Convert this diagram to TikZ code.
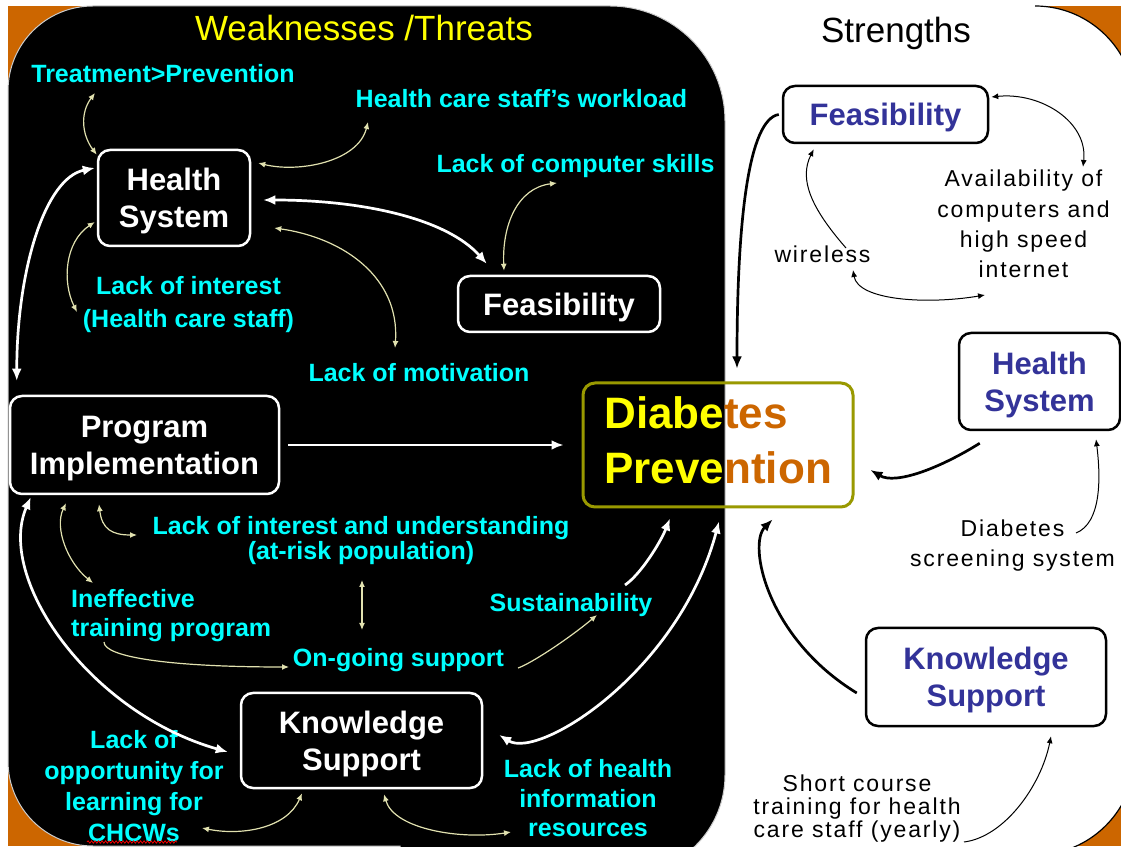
\documentclass[tikz,border=0pt]{standalone}
\usepackage{fontspec}
\setmainfont{Liberation Sans}
\newfontfamily\spacedfont[LetterSpace=8]{Liberation Sans}
\usepackage{xcolor}
\definecolor{swotorange}{RGB}{204,102,0}
\definecolor{swotcyan}{RGB}{0,255,255}
\definecolor{swotyellow}{RGB}{255,255,0}
\definecolor{swotblue}{RGB}{51,51,153}
\definecolor{swotolive}{RGB}{153,153,0}
\definecolor{paleyellow}{RGB}{225,225,175}
\usepackage{tikz}
\usetikzlibrary{arrows.meta}
\usetikzlibrary{decorations.pathmorphing}
\newcommand{\boxfont}{\bfseries\fontsize{31}{37}\selectfont}
\newcommand{\weakfont}[1][30]{\bfseries\fontsize{25}{#1}\selectfont}
\newcommand{\strongfont}[1][30]{\spacedfont\fontsize{23}{#1}\selectfont}
\newcommand{\twotone}[2]{\textcolor{swotyellow}{#1}\textcolor{swotorange}{#2}}
\tikzset{
    common/.style={rounded corners=12pt, line width=2.5pt, align=center, font=\boxfont, inner sep=0pt, text depth=0pt},
    darkbox/.style={common, draw=white, text=white},
    lightbox/.style={common, draw=black, text=swotblue},
    goalbox/.style={common, draw=swotolive, line width=3pt, font=\bfseries\fontsize{44}{55}\selectfont,
        text width=227pt, align=left, minimum width=270pt, minimum height=124pt, text depth=65pt},
    heading/.style={font=\fontsize{35}{40}\selectfont, inner sep=0pt},
    weak/.style={text=swotcyan, font=\weakfont, align=center, inner sep=2pt},
    strong/.style={text=black, font=\strongfont, align=center, inner sep=2pt},
    bigarrow/.style={white, line width=2.7pt, >={Latex[length=12pt, width=10pt]}},
    finearrow/.style={paleyellow, line width=1.2pt, >={Latex[length=7pt, width=6pt]}},
    darkarrow/.style={black, line width=2.7pt, >={Latex[length=12pt, width=10pt]}},
    thinarrow/.style={black, line width=1pt, >={Latex[length=7pt, width=6pt]}}
}

\begin{document}
\begin{tikzpicture}[x=1pt, y=1pt]
    \useasboundingbox (0,0) rectangle (1121,846);
    \clip (0,0) rectangle (1121,846);
    % background panels
    \fill[white] (0,0) rectangle (1121,846);
    \fill[swotorange] (8,0) rectangle (1121,840);
    \fill[white, rounded corners=100pt] (400,-9) rectangle (1135,840);
    \draw[black, line width=1.2pt] (1035,840) .. controls (1090.2,840) and (1135,795.2) .. (1135,740);
    \draw[black, line width=1.2pt] (1135,91) .. controls (1135,35.8) and (1090.2,-9) .. (1035,-9);
    \draw[fill=black, draw=white!80!black, line width=1pt]
        (8,755) .. controls (8,802) and (46,840) .. (93,840) -- (610,840)
        .. controls (673.5,840) and (725,788.5) .. (725,725) -- (725,71)
        .. controls (725,16) and (680,-29) .. (625,-29) -- (400,-29) -- (400,0) -- (93,0)
        .. controls (46,0) and (8,38) .. (8,85) -- cycle;

    \node[heading, text=swotyellow] (titleW) at (364,818) {Weaknesses /Threats};
    \node[heading] (titleS) at (896,813) {Strengths};

    % boxes
    \node[darkbox, minimum width=152pt, minimum height=96pt] (hsL) at (174,648) {Health\\System};
    \node[darkbox, minimum width=202pt, minimum height=56pt] (feasL) at (559,542) {Feasibility};
    \node[darkbox, minimum width=269pt, minimum height=98pt] (piL) at (144.5,401) {Program\\Implementation};
    \node[darkbox, minimum width=241pt, minimum height=95pt] (ksL) at (361.5,105.5) {Knowledge\\Support};
    \node[goalbox] (diab) at (718,401) {\twotone{Diabe}{tes}\\\twotone{Preve}{ntion}};
    \node[lightbox, minimum width=205pt, minimum height=57pt] (feasR) at (885.5,731.5) {Feasibility};
    \node[lightbox, minimum width=161pt, minimum height=97pt] (hsR) at (1039.5,464.5) {Health\\System};
    \node[lightbox, minimum width=240pt, minimum height=98pt] (ksR) at (986,169) {Knowledge\\Support};

    % weaknesses / threats
    \node[weak] (tp) at (163,772) {Treatment>Prevention};
    \node[weak] (load) at (521.5,747) {Health care staff’s workload};
    \node[weak] (skills) at (575.5,679.5) {Lack of computer skills};
    \node[weak, font={\weakfont[33]}] (interest) at (188.5,541) {Lack of interest\\(Health care staff)};
    \node[weak] (motiv) at (419,473) {Lack of motivation};
    \node[weak, font={\weakfont[25]}] (liu) at (361,305) {Lack of interest and understanding\\(at-risk population)};
    \node[weak, font={\weakfont[29]}, anchor=west, align=left] (ineff) at (69,230) {Ineffective\\training program};
    \node[weak] (sust) at (571,240.5) {Sustainability};
    \node[weak] (ongo) at (398.5,185.5) {On-going support};
    \node[weak, font={\weakfont[31]}] (chcw) at (134,60) {Lack of\\opportunity for\\learning for\\CHCWs};
    \node[weak, font={\weakfont[29.5]}] (infores) at (588,47.5) {Lack of health\\information\\resources};
    \draw[red, line width=0.7pt, decorate, decoration={snake, amplitude=1.2pt, segment length=3.5pt}]
        ([shift={(-47,-56)}]chcw.center) -- ++(90,0);

    % strengths
    \node[strong, font={\strongfont[30.3]}] (avail) at (1023.5,622) {Availability of\\computers and\\high speed\\internet};
    \node[strong] (wless) at (822.5,591.5) {wireless};
    \node[strong] (screen) at (1012.5,300) {Diabetes\\screening system};
    \node[strong, font={\strongfont[23]}] (course) at (857,37) {Short course\\training for health\\care staff (yearly)};

    \draw[bigarrow, <->] ([shift={(-2,30)}]hsL.west) .. controls +(-50,-10) and +(0,110) .. ([shift={(8,14)}]piL.north west);
    \draw[bigarrow, <->] ([shift={(12,-2)}]hsL.east) .. controls +(100,0) and +(-40,45) .. ([shift={(30,11)}]feasL.north west);
    \draw[bigarrow, ->] ([xshift=8pt]piL.east) -- ([xshift=-18pt]diab.west);
    \draw[bigarrow, <->] ([shift={(22,-2)}]piL.south west) .. controls +(-35,-80) and +(-140,40) .. ([shift={(-12,-11.5)}]ksL.west);
    \draw[bigarrow, ->] ([shift={(54,20.5)}]sust.center) .. controls +(15,10) and +(-10,-25) .. ([shift={(-48,-10)}]diab.south);
    \draw[bigarrow, <->] ([shift={(16,5.5)}]ksL.east) .. controls +(40,-25) and +(-40,-150) .. ([shift={(1,-13)}]diab.south);

    \draw[finearrow, <->] ([shift={(-68,-19)}]tp.center) .. controls +(-15,-20) and +(-15,20) .. ([yshift=-6pt]hsL.north west);
    \draw[finearrow, <->] ([shift={(7,35)}]hsL.east) .. controls +(40,-10) and +(-10,-40) .. ([shift={(-153.5,-23)}]load.center);
    \draw[finearrow, <->] ([shift={(-55,4)}]feasL.north) .. controls +(-2,45) and +(-40,-5) .. ([shift={(-18.5,-16.5)}]skills.center);
    \draw[finearrow, <->] ([shift={(-2,-24)}]hsL.west) .. controls +(-30,-20) and +(-15,30) .. ([shift={(-111.5,-7)}]interest.center);
    \draw[finearrow, <->] ([shift={(23,-30)}]hsL.east) .. controls +(70,-10) and +(5,70) .. ([shift={(-24,25)}]motiv.center);
    \draw[finearrow, <->] ([shift={(-78.5,-8)}]piL.south) .. controls +(-12,-25) and +(-25,20) .. ([shift={(24,33)}]ineff.west);
    \draw[finearrow, <->] ([shift={(-45.5,-9)}]piL.south) .. controls +(3,-25) and +(-25,0) .. ([shift={(-224,6)}]liu.center);
    \draw[finearrow, <->] ([shift={(1,-39)}]liu.center) -- ([shift={(-36.5,30.5)}]ongo.center);
    \draw[finearrow, ->] ([shift={(35,-26)}]ineff.west) .. controls +(0,-15) and +(-120,0) .. ([shift={(-109.5,-6.5)}]ongo.center);
    \draw[finearrow, ->] ([shift={(119.5,-7.5)}]ongo.center) .. controls +(12,4) and +(-30,-25) .. ([shift={(26,-9.5)}]sust.center);
    \draw[finearrow, <->] ([shift={(-59.5,-4)}]ksL.south) .. controls +(-15,-35) and +(40,-8) .. ([shift={(68,-42)}]chcw.center);
    \draw[finearrow, <->] ([shift={(22.5,-5)}]ksL.south) .. controls +(10,-35) and +(-50,-8) .. ([shift={(-77,-33.5)}]infores.center);

    \draw[darkarrow, ->] ([xshift=-3pt]feasR.west) .. controls +(-30,-5) and +(0,150) .. ([shift={(19,13)}]diab.north);
    \draw[thinarrow, <->] ([shift={(2,17.5)}]feasR.east) .. controls +(50,5) and +(5,45) .. ([shift={(59.5,57)}]avail.center);
    \draw[thinarrow, ->] ([shift={(23.5,6.5)}]wless.center) .. controls +(-35,40) and +(-15,-30) .. ([shift={(32,-5)}]feasR.south west);
    \draw[thinarrow, <->] ([shift={(30.5,-15.5)}]wless.center) .. controls +(5,-30) and +(-60,-10) .. ([shift={(-38.5,-71)}]avail.center);
    \draw[darkarrow, ->] ([shift={(22,-12)}]hsR.south west) .. controls +(-40,-25) and +(25,-15) .. ([shift={(16,-25)}]diab.east);
    \draw[thinarrow, ->] ([shift={(63.5,13)}]screen.center) .. controls +(25,10) and +(5,-40) .. ([shift={(56.5,-8)}]hsR.south);
    \draw[darkarrow, ->] ([shift={(-8,-16)}]ksR.west) .. controls +(-90,55) and +(-25,-25) .. ([shift={(-82,-11)}]diab.south east);
    \draw[thinarrow, ->] ([shift={(107,-33)}]course.center) .. controls +(40,5) and +(-10,-50) .. ([shift={(65,-9)}]ksR.south);
\end{tikzpicture}
\end{document}
